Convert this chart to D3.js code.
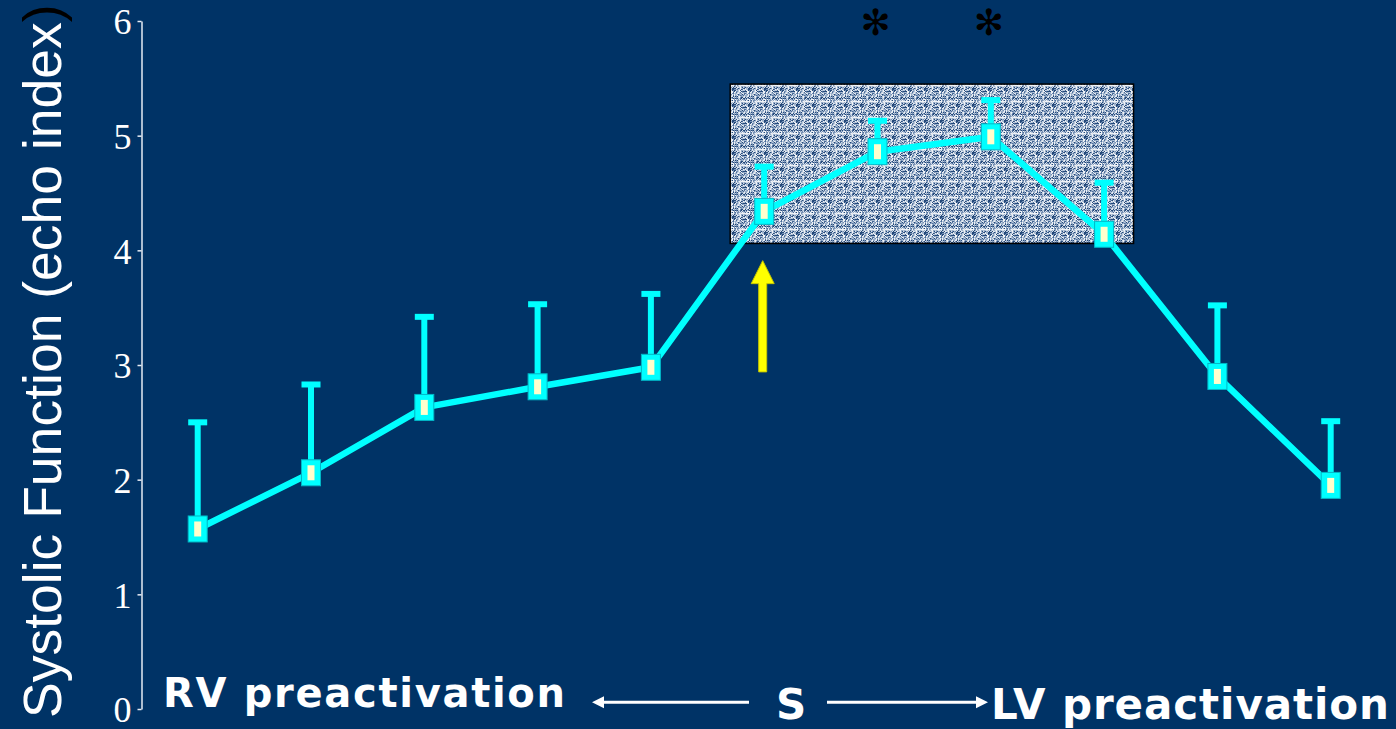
<!DOCTYPE html>
<html>
<head>
<meta charset="utf-8">
<script src="https://cdn.jsdelivr.net/npm/d3@7"></script>
<style>
  html, body { margin: 0; padding: 0; background: #003366; overflow: hidden; }
  svg { display: block; }
</style>
</head>
<body>
<svg id="chart" width="1396" height="729"></svg>
<script>
// Pacing steps, from RV preactivation through simultaneous (S) to LV preactivation
const steps = ["1", "2", "3", "4", "5", "6", "7", "8", "9", "10", "11"];
// Mean systolic function (echo index) at each step
const meanValues = [1.57, 2.06, 2.63, 2.81, 2.98, 4.34, 4.86, 4.99, 4.14, 2.90, 1.95];
// Upper error bar length at each step
const errorValues = [0.93, 0.77, 0.79, 0.72, 0.64, 0.39, 0.27, 0.32, 0.45, 0.62, 0.56];
// Y axis ticks
const yTicks = [0, 1, 2, 3, 4, 5, 6];
// Steps marked as significant
const significantSteps = ["7", "8"];
// Shaded optimal window (step-index span and value span)
const windowSpan = [4.70, 8.26];
const windowValues = [4.06, 5.45];
// Yellow arrow: step and value span (tail, tip)
const arrowStep = "6";
const arrowValues = [2.94, 3.91];
// Text
const yTitle = "Systolic Function (echo index";
const yTitleEnd = ")";
const leftLabel = "RV preactivation";
const centerLabel = "S";
const rightLabel = "LV preactivation";

const svg = d3.select("#chart");
const W = 1396, H = 729;

svg.append("rect").attr("width", W).attr("height", H).attr("fill", "#003366");

const x = d3.scaleLinear().domain([0, steps.length - 1]).range([197.7, 1330.7]);
const y = d3.scaleLinear().domain([0, 6]).range([709, 21]);
const xi = s => x(steps.indexOf(s));

// ---- speckled texture for the shaded window ----
const defs = svg.append("defs");
const tile = 16;
const pat = defs.append("pattern")
  .attr("id", "speckle")
  .attr("patternUnits", "userSpaceOnUse")
  .attr("width", tile).attr("height", tile);
function hash(i, j) {
  let n = Math.imul(i + 17, 374761393) ^ Math.imul(j + 31, 668265263);
  n = Math.imul(n ^ (n >>> 13), 1274126177);
  n = n ^ (n >>> 16);
  return (n >>> 0) / 4294967296;
}
const palette = ["#24497a", "#4a6b98", "#7590b4", "#97adc8", "#b9c8db", "#d8e0ea", "#f0f3f7"];
const cells = [];
for (let i = 0; i < tile; i++) {
  for (let j = 0; j < tile; j++) {
    let v = hash(i, j);
    if (i % 8 === 3) v = Math.min(0.999, v + 0.25);
    if (j % 8 === 5) v = Math.min(0.999, v + 0.15);
    cells.push({ i, j, c: palette[Math.floor(v * palette.length)] });
  }
}
pat.selectAll("rect").data(cells).join("rect")
  .attr("x", d => d.i).attr("y", d => d.j)
  .attr("width", 1).attr("height", 1)
  .attr("fill", d => d.c);

svg.append("rect")
  .attr("x", x(windowSpan[0]))
  .attr("y", y(windowValues[1]))
  .attr("width", x(windowSpan[1]) - x(windowSpan[0]))
  .attr("height", y(windowValues[0]) - y(windowValues[1]))
  .attr("fill", "url(#speckle)")
  .attr("stroke", "#000")
  .attr("stroke-width", 1.5);

// ---- Y axis ----
const yAxis = d3.axisLeft(y).tickValues(yTicks).tickSize(4).tickSizeOuter(0).tickPadding(6)
  .tickFormat(d3.format("d"));
const gy = svg.append("g").attr("transform", "translate(141.5,0)").call(yAxis);
gy.select(".domain").attr("stroke", "#e6ecf5").attr("stroke-width", 1.5);
gy.selectAll(".tick line").attr("stroke", "#e6ecf5").attr("stroke-width", 1.5);
gy.selectAll(".tick text")
  .attr("fill", "#fff")
  .attr("font-family", "'Liberation Serif', 'Times New Roman', serif")
  .attr("font-size", 36)
  .attr("dy", "0.36em");

// Y title, rotated
const yt = svg.append("text")
  .attr("transform", "translate(61,718) rotate(-90)")
  .attr("font-family", "'Liberation Sans', Arial, sans-serif")
  .attr("font-size", 53.5)
  .attr("fill", "#fff");
yt.append("tspan").text(yTitle);
yt.append("tspan").attr("fill", "#000").text(yTitleEnd);

// ---- line ----
const pts = steps.map((s, i) => ({ s, i, v: meanValues[i], e: errorValues[i] }));
svg.append("path")
  .datum(pts)
  .attr("fill", "none")
  .attr("stroke", "#00ffff")
  .attr("stroke-width", 6.5)
  .attr("stroke-linejoin", "round")
  .attr("d", d3.line().x(d => x(d.i)).y(d => y(d.v)));

// ---- error bars ----
const eb = svg.append("g");
eb.selectAll("line").data(pts).join("line")
  .attr("x1", d => x(d.i)).attr("x2", d => x(d.i))
  .attr("y1", d => y(d.v)).attr("y2", d => y(d.v + d.e))
  .attr("stroke", "#00ffff").attr("stroke-width", 6);
eb.selectAll("rect").data(pts).join("rect")
  .attr("x", d => x(d.i) - 9.5).attr("y", d => y(d.v + d.e) - 3)
  .attr("width", 19).attr("height", 6)
  .attr("fill", "#00ffff");

// ---- markers ----
const mk = svg.append("g").selectAll("g").data(pts).join("g")
  .attr("transform", d => `translate(${x(d.i)},${y(d.v)})`);
mk.append("rect")
  .attr("x", -9.5).attr("y", -13).attr("width", 19).attr("height", 26)
  .attr("fill", "#00ffff").attr("stroke", "#00b7c7").attr("stroke-width", 1);
mk.append("rect")
  .attr("x", -3.5).attr("y", -7.5).attr("width", 7).attr("height", 15)
  .attr("fill", "#ffffcc");

// ---- yellow arrow ----
const ax = xi(arrowStep) - 1.5;
const tipY = y(arrowValues[1]);
const tailY = y(arrowValues[0]);
const headLen = 23, headHalf = 11.5, shaftHalf = 4;
svg.append("path")
  .attr("d", `M${ax - shaftHalf},${tailY} L${ax - shaftHalf},${tipY + headLen} L${ax - headHalf},${tipY + headLen} L${ax},${tipY} L${ax + headHalf},${tipY + headLen} L${ax + shaftHalf},${tipY + headLen} L${ax + shaftHalf},${tailY} Z`)
  .attr("fill", "#ffff00").attr("stroke", "#c8c800").attr("stroke-width", 1);

// ---- significance marks ----
svg.append("g").selectAll("text").data(significantSteps).join("text")
  .attr("x", d => xi(d) - 2)
  .attr("y", 35)
  .attr("text-anchor", "middle")
  .attr("font-family", "'DejaVu Sans', sans-serif")
  .attr("font-size", 36)
  .attr("fill", "#000")
  .text("\u273B");

// ---- bottom labels ----
const bold = "'DejaVu Sans', Verdana, sans-serif";
svg.append("text")
  .attr("x", 163).attr("y", 707)
  .attr("font-family", bold).attr("font-weight", "bold").attr("font-size", 40)
  .attr("fill", "#fff")
  .attr("textLength", 402).attr("lengthAdjust", "spacing")
  .text(leftLabel);
svg.append("text")
  .attr("x", 776).attr("y", 719)
  .attr("font-family", bold).attr("font-weight", "bold").attr("font-size", 42)
  .attr("fill", "#fff")
  .text(centerLabel);
svg.append("text")
  .attr("x", 991).attr("y", 719)
  .attr("font-family", bold).attr("font-weight", "bold").attr("font-size", 42)
  .attr("fill", "#fff")
  .attr("textLength", 398).attr("lengthAdjust", "spacing")
  .text(rightLabel);

// direction arrows around "S"
const arrowRow = 702.3;
const dirArrows = [
  { from: 749, to: 592 },
  { from: 827, to: 988 }
];
const da = svg.append("g");
dirArrows.forEach(a => {
  const dir = Math.sign(a.to - a.from);
  da.append("line")
    .attr("x1", a.from).attr("x2", a.to - dir * 10)
    .attr("y1", arrowRow).attr("y2", arrowRow)
    .attr("stroke", "#fff").attr("stroke-width", 3);
  da.append("path")
    .attr("d", `M${a.to},${arrowRow} L${a.to - dir * 12},${arrowRow - 6} L${a.to - dir * 12},${arrowRow + 6} Z`)
    .attr("fill", "#fff");
});
</script>
</body>
</html>
